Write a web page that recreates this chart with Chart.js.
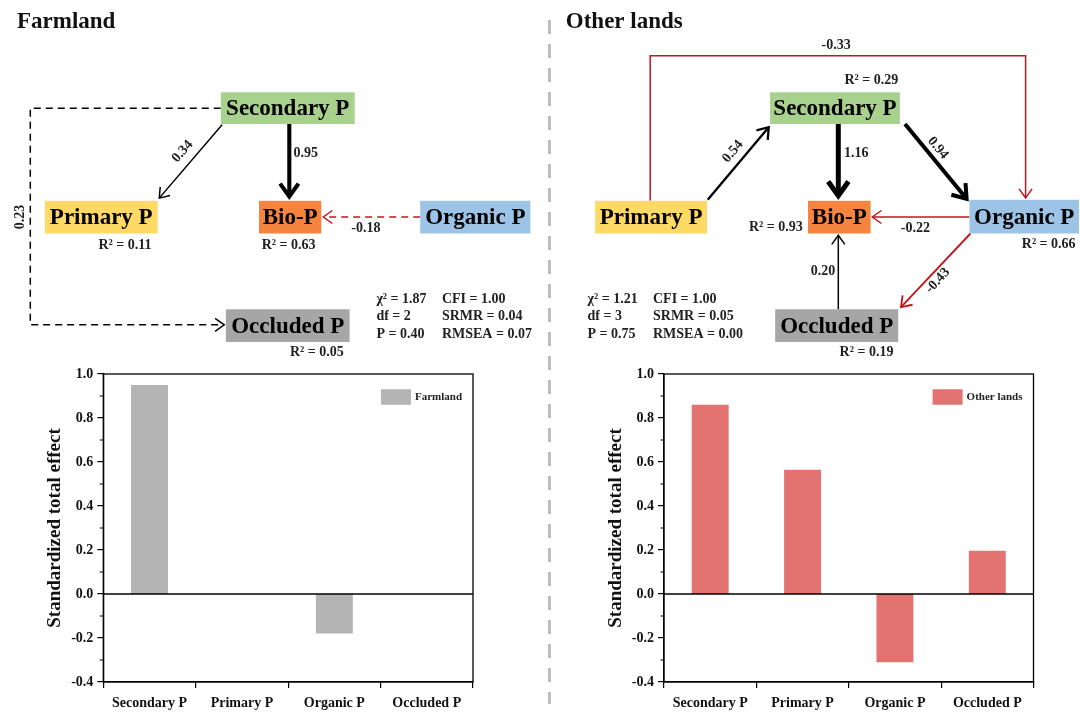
<!DOCTYPE html>
<html>
<head>
<meta charset="utf-8">
<script src="https://cdn.jsdelivr.net/npm/chart.js@4.4.1/dist/chart.umd.min.js"></script>
<style>
  html, body { margin: 0; padding: 0; background: #fff; }
  #page { position: relative; width: 1080px; height: 715px; overflow: hidden; background: #fff; }
  #page canvas { position: absolute; }
  #divider {
    position: absolute; left: 548px; top: 20px; width: 3px; height: 684px;
    background: repeating-linear-gradient(to bottom, #bdbdbd 0 14px, transparent 14px 24px);
  }
</style>
</head>
<body>
<div id="page">
  <canvas id="diagFarm" width="540" height="360" style="left:0;top:0"></canvas>
  <canvas id="diagOther" width="540" height="360" style="left:540px;top:0"></canvas>
  <canvas id="barFarm" width="540" height="355" style="left:0;top:360px"></canvas>
  <canvas id="barOther" width="540" height="355" style="left:540px;top:360px"></canvas>
  <div id="divider"></div>
</div>
<script>
// ---- data ----
const categories = ['Secondary P', 'Primary P', 'Organic P', 'Occluded P'];
const farmlandEffect = [0.95, 0, -0.18, 0];
const otherLandsEffect = [0.86, 0.565, -0.31, 0.197];
const yTickValues = [-0.4, -0.2, 0.0, 0.2, 0.4, 0.6, 0.8, 1.0];

// path model: [from, to, coefficient, significant]
const farmlandPaths = [
  ['Secondary P', 'Primary P', 0.34, true],
  ['Secondary P', 'Bio-P', 0.95, true],
  ['Organic P', 'Bio-P', -0.18, false],
  ['Secondary P', 'Occluded P', 0.23, false]
];
const otherLandsPaths = [
  ['Primary P', 'Secondary P', 0.54, true],
  ['Secondary P', 'Bio-P', 1.16, true],
  ['Secondary P', 'Organic P', 0.94, true],
  ['Organic P', 'Bio-P', -0.22, true],
  ['Primary P', 'Organic P', -0.33, true],
  ['Organic P', 'Occluded P', -0.43, true],
  ['Occluded P', 'Bio-P', 0.20, true]
];
const farmlandR2 = [['Primary P', 0.11], ['Bio-P', 0.63], ['Occluded P', 0.05]];
const otherLandsR2 = [['Secondary P', 0.29], ['Bio-P', 0.93], ['Organic P', 0.66], ['Occluded P', 0.19]];

const fitNames = ['χ²', 'df', 'P', 'CFI', 'SRMR', 'RMSEA'];
const farmlandFit = [1.87, 2, 0.40, 1.00, 0.04, 0.07];
const otherLandsFit = [1.21, 3, 0.75, 1.00, 0.05, 0.00];

// ---- styles / layout ----
const SERIF = "'Liberation Serif', 'Times New Roman', serif";
const RED = '#C0161E';
const nodeColors = {
  'Secondary P': '#A9D18E',
  'Primary P': '#FFD966',
  'Bio-P': '#F4843F',
  'Organic P': '#9DC3E6',
  'Occluded P': '#A6A6A6'
};

// diagram coordinates (one unit = one pixel of a 540x360 panel)
const farmlandLayout = {
  title: [17, 22.5],
  boxes: {
    'Secondary P': [220.8, 92.3, 354.7, 124],
    'Primary P': [44.8, 200.8, 157.7, 233.5],
    'Bio-P': [259, 200.8, 321.3, 233.5],
    'Organic P': [420.2, 200.8, 530.4, 233.5],
    'Occluded P': [225.9, 309.3, 349.6, 342]
  },
  routes: [
    [[222.1, 124.7], [158.4, 199.1]],
    [[289.3, 124], [289.3, 200]],
    [[420.2, 217], [322, 217]],
    [[220.8, 108.2], [30.3, 108.2], [30.3, 324.8], [225.5, 324.8]]
  ],
  labels: [[182.5, 151.5, -49], [305.8, 153.3, 0], [365.8, 228, 0], [20.7, 217, -90]],
  r2: [[125, 245.2], [288.6, 245.2], [316.8, 352]],
  fit: [376.4, 441.9, [299.6, 316.8, 334.8]]
};
const otherLandsLayout = {
  title: [25.8, 22.5],
  boxes: {
    'Secondary P': [230.1, 92.3, 359.9, 124],
    'Primary P': [55.1, 200.8, 167, 233.5],
    'Bio-P': [268, 200.8, 330.6, 233.5],
    'Organic P': [429.5, 199.8, 539, 233.5],
    'Occluded P': [235.2, 309.3, 358.2, 342]
  },
  routes: [
    [[167.7, 199.8], [230, 125.7]],
    [[298.3, 124], [298.3, 200]],
    [[365, 124], [428.8, 201.5]],
    [[429.5, 217], [331, 217]],
    [[110.2, 200.8], [110.2, 55.8], [485.6, 55.8], [485.6, 199.3]],
    [[430.5, 233.5], [359.9, 308.2]],
    [[298.3, 309.3], [298.3, 234]]
  ],
  labels: [[192.9, 151.5, -50], [316.2, 153.3, 0], [397.8, 148, 50], [375.4, 228, 0],
           [296.2, 45.5, 0], [397.8, 280.7, -47], [283.1, 271, 0]],
  r2: [[331.3, 80.2], [235.9, 227.3], [508.7, 244.5], [326.5, 352]],
  fit: [47.5, 113, [299.6, 316.8, 334.8]]
};

Chart.defaults.font.family = SERIF;
Chart.defaults.color = '#000';

// open chevron arrow along a polyline
function drawArrow(ctx, pts, w, color, dash) {
  const n = pts.length;
  const [tx, ty] = pts[n - 1];
  const [px, py] = pts[n - 2];
  const len = Math.hypot(tx - px, ty - py);
  const ux = (tx - px) / len, uy = (ty - py) / len;
  const a = 0.62;
  const inset = (w / 2) / Math.sin(a);
  const vx = tx - ux * inset, vy = ty - uy * inset;

  ctx.strokeStyle = color;
  ctx.lineWidth = w;
  ctx.lineCap = 'butt';
  ctx.lineJoin = 'miter';
  ctx.setLineDash(dash);
  ctx.beginPath();
  ctx.moveTo(pts[0][0], pts[0][1]);
  for (let i = 1; i < n - 1; i++) ctx.lineTo(pts[i][0], pts[i][1]);
  ctx.lineTo(vx, vy);
  ctx.stroke();

  ctx.setLineDash([]);
  const L = 8.5 + 1.8 * w;
  const back = Math.atan2(-uy, -ux);
  ctx.beginPath();
  ctx.moveTo(vx + L * Math.cos(back + a), vy + L * Math.sin(back + a));
  ctx.lineTo(vx, vy);
  ctx.lineTo(vx + L * Math.cos(back - a), vy + L * Math.sin(back - a));
  ctx.stroke();
}

function diagramPlugin(title, paths, r2, fit, layout) {
  return {
    id: 'pathDiagram',
    afterDraw(chart) {
      const ctx = chart.ctx;
      const X = v => chart.scales.x.getPixelForValue(v);
      const Y = v => chart.scales.y.getPixelForValue(v);
      ctx.save();

      // 패널 제목
      ctx.fillStyle = '#111';
      ctx.font = 'bold 23px ' + SERIF;
      ctx.textAlign = 'left';
      ctx.textBaseline = 'middle';
      ctx.fillText(title, X(layout.title[0]), Y(layout.title[1]));

      // 경로 화살표
      paths.forEach((p, i) => {
        const route = layout.routes[i].map(pt => [X(pt[0]), Y(pt[1])]);
        const w = Math.max(1.5, Math.abs(p[2]) * 4.3);
        drawArrow(ctx, route, w, p[2] < 0 ? RED : '#000', p[3] ? [] : [7, 5]);
      });

      // 변수 상자
      Object.keys(layout.boxes).forEach(name => {
        const b = layout.boxes[name];
        const x0 = X(b[0]), y0 = Y(b[1]), x1 = X(b[2]), y1 = Y(b[3]);
        ctx.fillStyle = nodeColors[name];
        ctx.fillRect(x0, y0, x1 - x0, y1 - y0);
        ctx.fillStyle = '#000';
        ctx.font = 'bold 23px ' + SERIF;
        ctx.textAlign = 'center';
        ctx.fillText(name, (x0 + x1) / 2, (y0 + y1) / 2 + 1);
      });

      // 경로 계수
      ctx.font = 'bold 14px ' + SERIF;
      ctx.fillStyle = '#222';
      paths.forEach((p, i) => {
        const [lx, ly, rot] = layout.labels[i];
        ctx.save();
        ctx.translate(X(lx), Y(ly));
        ctx.rotate(rot * Math.PI / 180);
        ctx.textAlign = 'center';
        ctx.fillText(p[2].toFixed(2), 0, 0);
        ctx.restore();
      });

      // R²
      r2.forEach((r, i) => {
        ctx.textAlign = 'center';
        ctx.fillText('R² = ' + r[1].toFixed(2), X(layout.r2[i][0]), Y(layout.r2[i][1]));
      });

      // 적합도 지수
      ctx.textAlign = 'left';
      const fmt = k => k === 1 ? String(fit[k]) : fit[k].toFixed(2);
      for (let r = 0; r < 3; r++) {
        const yy = Y(layout.fit[2][r]);
        ctx.fillText(fitNames[r] + ' = ' + fmt(r), X(layout.fit[0]), yy);
        ctx.fillText(fitNames[r + 3] + ' = ' + fmt(r + 3), X(layout.fit[1]), yy);
      }
      ctx.restore();
    }
  };
}

function makeDiagram(id, title, paths, r2, fit, layout) {
  const names = Object.keys(layout.boxes);
  return new Chart(document.getElementById(id), {
    type: 'scatter',
    data: {
      datasets: [{
        data: names.map(n => {
          const b = layout.boxes[n];
          return { x: (b[0] + b[2]) / 2, y: (b[1] + b[3]) / 2 };
        }),
        pointRadius: 0
      }]
    },
    options: {
      responsive: false,
      animation: false,
      devicePixelRatio: 1,
      events: [],
      layout: { padding: 0 },
      scales: {
        x: { display: false, min: 0, max: 540 },
        y: { display: false, min: 0, max: 360, reverse: true }
      },
      plugins: { legend: { display: false }, tooltip: { enabled: false } }
    },
    plugins: [diagramPlugin(title, paths, r2, fit, layout)]
  });
}

// 막대 그래프 테두리, 0 기준선, 보조 눈금, 범례
const framePlugin = {
  id: 'frame',
  afterDatasetsDraw(chart) {
    const { ctx, chartArea: a } = chart;
    const y = chart.scales.y;
    ctx.save();
    ctx.strokeStyle = '#000';
    ctx.lineWidth = 1.3;
    ctx.strokeRect(a.left, a.top, a.right - a.left, a.bottom - a.top);
    const y0 = y.getPixelForValue(0);
    ctx.beginPath();
    ctx.moveTo(a.left, y0);
    ctx.lineTo(a.right, y0);
    ctx.stroke();
    ctx.lineWidth = 1;
    for (let i = 0; i < yTickValues.length - 1; i++) {
      const yy = y.getPixelForValue((yTickValues[i] + yTickValues[i + 1]) / 2);
      ctx.beginPath();
      ctx.moveTo(a.left - 3.5, yy);
      ctx.lineTo(a.left, yy);
      ctx.stroke();
    }
    const ds = chart.data.datasets[0];
    ctx.font = 'bold 11px ' + SERIF;
    const tw = ctx.measureText(ds.label).width;
    const tx = a.right - 11 - tw;
    const ly = a.top + 23;
    ctx.fillStyle = '#222';
    ctx.textAlign = 'left';
    ctx.textBaseline = 'middle';
    ctx.fillText(ds.label, tx, ly);
    ctx.fillStyle = ds.backgroundColor;
    ctx.fillRect(tx - 34, ly - 7.75, 30, 15.5);
    ctx.restore();
  }
};

function makeBar(id, label, values, color, axisWidth, titlePad, padRight) {
  return new Chart(document.getElementById(id), {
    type: 'bar',
    data: {
      labels: categories,
      datasets: [{
        label: label,
        data: values,
        backgroundColor: color,
        borderWidth: 0,
        barPercentage: 0.4,
        categoryPercentage: 1
      }]
    },
    options: {
      responsive: false,
      animation: false,
      devicePixelRatio: 1,
      events: [],
      layout: { padding: { left: 0, right: padRight, top: 14, bottom: 0 } },
      scales: {
        x: {
          grid: { drawOnChartArea: false, offset: true, tickLength: 6, color: '#000', lineWidth: 1.2 },
          border: { display: true, color: '#000', width: 1.3 },
          ticks: { color: '#111', font: { size: 14, weight: 'bold' }, padding: 7 },
          afterFit: s => { s.height = 33; }
        },
        y: {
          min: -0.4,
          max: 1.0,
          ticks: {
            stepSize: 0.2,
            color: '#111',
            padding: 4,
            font: { size: 14, weight: 'bold' },
            callback: v => (Math.abs(v) < 1e-9 ? 0 : v).toFixed(1)
          },
          grid: { drawOnChartArea: false, tickLength: 6, color: '#000', lineWidth: 1.2 },
          border: { display: true, color: '#000', width: 1.3 },
          title: {
            display: true,
            text: 'Standardized total effect',
            color: '#111',
            font: { size: 19, weight: 'bold' },
            padding: { top: titlePad, bottom: 0 }
          },
          afterFit: s => { s.width = axisWidth; }
        }
      },
      plugins: { legend: { display: false }, tooltip: { enabled: false } }
    },
    plugins: [framePlugin]
  });
}

makeDiagram('diagFarm', 'Farmland', farmlandPaths, farmlandR2, farmlandFit, farmlandLayout);
makeDiagram('diagOther', 'Other lands', otherLandsPaths, otherLandsR2, otherLandsFit, otherLandsLayout);
makeBar('barFarm', 'Farmland', farmlandEffect, '#B4B4B4', 103.3, 43.7, 67);
makeBar('barOther', 'Other lands', otherLandsEffect, '#E27370', 124, 64.4, 46.5);
</script>
</body>
</html>
